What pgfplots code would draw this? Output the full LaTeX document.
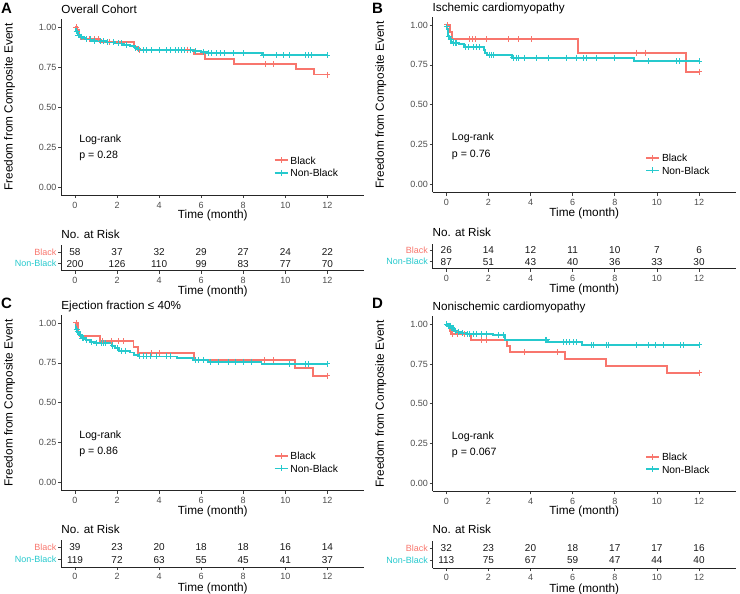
\documentclass[border=0pt]{standalone}
\usepackage{fontspec}
\setmainfont{Liberation Sans}
\usepackage{pgfplots}
\pgfplotsset{compat=1.18}
\definecolor{cred}{HTML}{F8766D}
\definecolor{cteal0}{HTML}{00BFC4}
\colorlet{cteal}{cteal0!85!white}
\definecolor{tickgray}{HTML}{4D4D4D}
\newcommand{\fs}[1]{\fontsize{#1}{#1}\selectfont}
\pgfplotsset{
  base/.style={scale only axis, xmin=-0.655, xmax=13.755,
    axis x line*=bottom, axis y line*=left,
    axis line style={line width=0.8pt, black!85},
    tick align=outside, major tick length=3pt,
    tick style={line width=0.7pt, black!75},
    xtick={0,2,4,6,8,10,12}, xticklabels={0,2,4,6,8,10,12},
    ticklabel style={font=\fs{9}, text=tickgray},
    xticklabel style={inner sep=0pt, anchor=north, yshift=-4pt},
    yticklabel style={inner sep=0pt, anchor=east, xshift=-1.5pt},
    xlabel={Time (month)},
    every axis x label/.style={at={(axis description cs:0.5,0)}, yshift=-20.5pt, anchor=center, inner sep=0pt, font=\fs{11.8}},
    every axis title/.style={at={(axis description cs:0,1)}, yshift=6pt, anchor=base west, inner sep=0pt, font=\fs{11.7}},
    clip=false,
  },
  km/.style={base, width=303.1pt, height=176pt, ymin=-0.05, ymax=1.05,
    ytick={0,0.25,0.5,0.75,1}, yticklabels={0.00,0.25,0.50,0.75,1.00},
    ylabel={Freedom from Composite Event},
    every axis y label/.style={at={(axis description cs:-0.1706,0.5)}, rotate=90, anchor=center, inner sep=0pt, font=\fs{11.8}},
    legend style={draw=none, fill=none, inner sep=0pt, font=\fs{10.3}, cells={anchor=west},
      at={(axis description cs:0.70,0.225)}, anchor=north west, row sep=3pt,
      nodes={inner ysep=1pt, inner xsep=2pt, text height=7.5pt, text depth=0pt}},
    legend image code/.code={\draw[mark repeat=2,mark phase=2,#1] plot coordinates {(0pt,0pt) (6.5pt,0pt) (13pt,0pt)};},
  },
  tbl/.style={base, width=303.1pt, ymin=0.4, ymax=2.6, ytick={1,2},
    yticklabels={\textcolor{cteal}{Non-Black},\textcolor{cred}{Black}},
    xticklabel style={yshift=0.5pt},
    every axis x label/.style={at={(axis description cs:0.5,0)}, yshift=-21pt, anchor=center, inner sep=0pt, font=\fs{11.8}},
    title={No. at Risk}, every axis title/.append style={yshift=1pt},
  },
  redmark/.style={only marks, mark=+, cred, mark size=3pt, mark options={line width=1pt}, forget plot},
  tealmark/.style={only marks, mark=+, cteal, mark size=3pt, mark options={line width=1pt}, forget plot},
  risk/.style={only marks, mark=none, nodes near coords, point meta=explicit symbolic,
    every node near coord/.append style={anchor=center, inner sep=0pt, font=\fs{10}, text=black!90}},
}
\tikzset{lred/.style={const plot, color=cred, line width=1.9pt}, lteal/.style={const plot, color=cteal, line width=1.9pt}}
\begin{document}
\begin{tikzpicture}
\path[use as bounding box] (0pt,0pt) rectangle (740pt,-594pt);
% ---------------- A ----------------
\node[anchor=base west, inner sep=0pt, font=\fs{15}\bfseries] at (1pt,-14pt) {A};
\begin{axis}[km, at={(61.2pt,-195pt)}, anchor=south west, title={Overall Cohort}]
\addplot[lred, forget plot] coordinates {(0,1.0) (0.1,0.983) (0.2,0.948) (0.3,0.925) (1.2,0.908) (2.8,0.873) (3.0,0.858) (5.65,0.829) (6.2,0.798) (7.55,0.767) (10.5,0.735) (11.35,0.703) (12,0.703)};
\addplot[redmark] coordinates {(0.05,1.0) (0.7,0.925) (0.95,0.925) (1.12,0.925) (1.66,0.908) (3.05,0.858) (5.36,0.858) (9.07,0.767) (9.43,0.767) (12,0.703)};
\addplot[lteal, forget plot] coordinates {(0,0.99) (0.05,0.975) (0.1,0.962) (0.15,0.95) (0.25,0.94) (0.35,0.93) (0.5,0.922) (0.8,0.915) (1.1,0.91) (1.5,0.904) (1.9,0.897) (2.3,0.89) (2.6,0.882) (2.85,0.87) (2.95,0.862) (3.1,0.855) (5.6,0.85) (6.0,0.842) (6.3,0.836) (8.9,0.825) (12,0.825)};
\addplot[tealmark] coordinates {(0.08,0.975) (0.16,0.95) (0.32,0.94) (0.56,0.922) (0.76,0.922) (0.95,0.915) (1.19,0.91) (1.35,0.91) (1.55,0.904) (1.82,0.904) (2.06,0.897) (2.22,0.897) (2.46,0.89) (2.9,0.87) (3.01,0.862) (3.25,0.855) (3.41,0.855) (3.65,0.855) (4.04,0.855) (4.36,0.855) (4.52,0.855) (4.76,0.855) (4.91,0.855) (5.07,0.855) (5.23,0.855) (5.47,0.855) (5.75,0.85) (6.1,0.842) (6.34,0.836) (6.5,0.836) (6.74,0.836) (6.9,0.836) (7.13,0.836) (7.53,0.836) (8.0,0.836) (8.96,0.825) (9.6,0.825) (9.9,0.825) (10.2,0.825) (10.94,0.825) (11.1,0.825) (11.25,0.825) (12,0.825)};
\addlegendimage{cred, line width=1.9pt, mark=+, mark size=3pt, mark options={line width=1pt}}
\addlegendentry{Black}
\addlegendimage{cteal, line width=1.9pt, mark=+, mark size=3pt, mark options={line width=1pt}}
\addlegendentry{Non-Black}
\node[anchor=west, inner sep=0pt, font=\fs{10.6}] at (axis cs:0.2,0.294) {Log-rank};
\node[anchor=west, inner sep=0pt, font=\fs{10.6}] at (axis cs:0.2,0.194) {p = 0.28};
\end{axis}
\begin{axis}[tbl, at={(61.2pt,-270.5pt)}, anchor=south west, height=25.1pt]
\addplot[risk] table[meta=n, row sep=\\] {x y n\\ 0 2 58\\ 2 2 37\\ 4 2 32\\ 6 2 29\\ 8 2 27\\ 10 2 24\\ 12 2 22\\ 0 1 200\\ 2 1 126\\ 4 1 110\\ 6 1 99\\ 8 1 83\\ 10 1 77\\ 12 1 70\\};
\end{axis}
% ---------------- B ----------------
\node[anchor=base west, inner sep=0pt, font=\fs{15}\bfseries] at (372pt,-14pt) {B};
\begin{axis}[km, at={(432.5pt,-192.5pt)}, anchor=south west, width=303.5pt, height=175.5pt, title={Ischemic cardiomyopathy}]
\addplot[lred, forget plot] coordinates {(0,1.0) (0.18,0.958) (0.26,0.91) (6.24,0.826) (11.38,0.707) (12,0.707)};
\addplot[redmark] coordinates {(0.05,1.0) (1.1,0.91) (1.25,0.91) (1.4,0.91) (1.9,0.91) (2.95,0.91) (3.45,0.91) (4.05,0.91) (9.04,0.826) (9.48,0.826) (12,0.707)};
\addplot[lteal, forget plot] coordinates {(0,0.99) (0.03,0.975) (0.06,0.955) (0.1,0.93) (0.15,0.91) (0.22,0.895) (0.3,0.885) (0.6,0.878) (0.85,0.86) (1.77,0.843) (1.85,0.826) (1.95,0.812) (3.12,0.795) (8.91,0.774) (12,0.774)};
\addplot[tealmark] coordinates {(0.02,0.99) (0.12,0.93) (0.2,0.91) (0.34,0.885) (0.42,0.885) (0.5,0.885) (0.92,0.86) (1.05,0.86) (1.29,0.86) (1.44,0.86) (1.6,0.86) (2.07,0.812) (2.15,0.812) (2.23,0.812) (3.18,0.795) (3.31,0.795) (3.42,0.795) (3.73,0.795) (4.29,0.795) (4.84,0.795) (5.71,0.795) (6.18,0.795) (6.5,0.795) (6.66,0.795) (7.13,0.795) (8.0,0.795) (9.58,0.774) (10.92,0.774) (11.05,0.774) (12,0.774)};
\addlegendimage{cred, line width=1.9pt, mark=+, mark size=3pt, mark options={line width=1pt}}
\addlegendentry{Black}
\addlegendimage{cteal, line width=1.9pt, mark=+, mark size=3pt, mark options={line width=1pt}}
\addlegendentry{Non-Black}
\node[anchor=west, inner sep=0pt, font=\fs{10.6}] at (axis cs:0.26,0.293) {Log-rank};
\node[anchor=west, inner sep=0pt, font=\fs{10.6}] at (axis cs:0.26,0.188) {p = 0.76};
\end{axis}
\begin{axis}[tbl, at={(432.5pt,-268.5pt)}, anchor=south west, width=303.5pt, height=25pt]
\addplot[risk] table[meta=n, row sep=\\] {x y n\\ 0 2 26\\ 2 2 14\\ 4 2 12\\ 6 2 11\\ 8 2 10\\ 10 2 7\\ 12 2 6\\ 0 1 87\\ 2 1 51\\ 4 1 43\\ 6 1 40\\ 8 1 36\\ 10 1 33\\ 12 1 30\\};
\end{axis}
% ---------------- C ----------------
\node[anchor=base west, inner sep=0pt, font=\fs{15}\bfseries] at (1pt,-308pt) {C};
\begin{axis}[km, at={(61.2pt,-490.5pt)}, anchor=south west, height=175.5pt, title={Ejection fraction ≤ 40\%}]
\addplot[lred, forget plot] coordinates {(0,1.0) (0.16,0.945) (0.25,0.92) (1.18,0.885) (2.78,0.85) (3.0,0.81) (5.65,0.768) (10.48,0.716) (11.33,0.668) (12,0.668)};
\addplot[redmark] coordinates {(0.05,1.0) (1.3,0.885) (1.74,0.885) (2.06,0.885) (2.3,0.885) (3.64,0.81) (4.0,0.81) (9.03,0.768) (9.43,0.768) (12,0.668)};
\addplot[lteal, forget plot] coordinates {(0,0.99) (0.04,0.96) (0.1,0.945) (0.17,0.925) (0.3,0.904) (0.5,0.894) (0.7,0.879) (0.95,0.873) (1.74,0.856) (1.9,0.842) (2.1,0.827) (2.6,0.815) (2.8,0.8) (3.0,0.79) (4.83,0.78) (5.63,0.768) (6.34,0.758) (8.87,0.744) (12,0.744)};
\addplot[tealmark] coordinates {(0.08,0.96) (0.14,0.945) (0.24,0.925) (0.34,0.904) (0.42,0.904) (0.56,0.894) (0.79,0.879) (1.0,0.873) (1.27,0.873) (1.35,0.873) (1.43,0.873) (1.8,0.856) (2.0,0.842) (2.22,0.827) (2.38,0.827) (3.09,0.79) (3.25,0.79) (3.41,0.79) (3.57,0.79) (3.88,0.79) (4.36,0.79) (4.52,0.79) (5.71,0.768) (5.86,0.768) (6.1,0.768) (6.42,0.758) (6.82,0.758) (7.29,0.758) (7.61,0.758) (8.0,0.758) (8.4,0.758) (10.2,0.744) (10.94,0.744) (11.1,0.744) (12,0.744)};
\addlegendimage{cred, line width=1.9pt, mark=+, mark size=3pt, mark options={line width=1pt}}
\addlegendentry{Black}
\addlegendimage{cteal, line width=1.9pt, mark=+, mark size=3pt, mark options={line width=1pt}}
\addlegendentry{Non-Black}
\node[anchor=west, inner sep=0pt, font=\fs{10.6}] at (axis cs:0.2,0.292) {Log-rank};
\node[anchor=west, inner sep=0pt, font=\fs{10.6}] at (axis cs:0.2,0.194) {p = 0.86};
\end{axis}
\begin{axis}[tbl, at={(61.2pt,-567pt)}, anchor=south west, height=27pt]
\addplot[risk] table[meta=n, row sep=\\] {x y n\\ 0 2 39\\ 2 2 23\\ 4 2 20\\ 6 2 18\\ 8 2 18\\ 10 2 16\\ 12 2 14\\ 0 1 119\\ 2 1 72\\ 4 1 63\\ 6 1 55\\ 8 1 45\\ 10 1 41\\ 12 1 37\\};
\end{axis}
% ---------------- D ----------------
\node[anchor=base west, inner sep=0pt, font=\fs{15}\bfseries] at (372pt,-308pt) {D};
\begin{axis}[km, at={(432.5pt,-491.3pt)}, anchor=south west, width=303.5pt, height=175pt, title={Nonischemic cardiomyopathy}]
\addplot[lred, forget plot] coordinates {(0,1.0) (0.18,0.96) (0.22,0.939) (1.16,0.902) (2.87,0.864) (3.03,0.824) (5.64,0.78) (7.58,0.738) (10.5,0.696) (12,0.696)};
\addplot[redmark] coordinates {(0.3,0.939) (0.55,0.939) (0.85,0.939) (1.67,0.902) (1.9,0.902) (3.7,0.824) (5.3,0.824) (12,0.696)};
\addplot[lteal, forget plot] coordinates {(0,1.0) (0.08,0.99) (0.2,0.975) (0.38,0.96) (0.48,0.95) (0.7,0.945) (0.95,0.939) (2.23,0.93) (2.79,0.902) (4.84,0.887) (6.43,0.87) (12,0.87)};
\addplot[tealmark] coordinates {(0.01,1.0) (0.1,0.99) (0.14,0.99) (0.18,0.99) (0.23,0.975) (0.28,0.975) (0.34,0.975) (0.42,0.96) (0.57,0.95) (0.75,0.945) (0.99,0.939) (1.09,0.939) (1.28,0.939) (1.44,0.939) (1.68,0.939) (1.92,0.939) (2.47,0.93) (2.71,0.93) (4.69,0.902) (4.77,0.902) (5.56,0.887) (5.71,0.887) (5.87,0.887) (6.03,0.887) (6.19,0.887) (6.9,0.87) (6.98,0.87) (7.61,0.87) (7.69,0.87) (9.04,0.87) (9.59,0.87) (9.91,0.87) (10.3,0.87) (11.1,0.87) (11.25,0.87) (12,0.87)};
\addlegendimage{cred, line width=1.9pt, mark=+, mark size=3pt, mark options={line width=1pt}}
\addlegendentry{Black}
\addlegendimage{cteal, line width=1.9pt, mark=+, mark size=3pt, mark options={line width=1pt}}
\addlegendentry{Non-Black}
\node[anchor=west, inner sep=0pt, font=\fs{10.6}] at (axis cs:0.26,0.295) {Log-rank};
\node[anchor=west, inner sep=0pt, font=\fs{10.6}] at (axis cs:0.26,0.19) {p = 0.067};
\end{axis}
\begin{axis}[tbl, at={(432.5pt,-568pt)}, anchor=south west, width=303.5pt, height=27.5pt]
\addplot[risk] table[meta=n, row sep=\\] {x y n\\ 0 2 32\\ 2 2 23\\ 4 2 20\\ 6 2 18\\ 8 2 17\\ 10 2 17\\ 12 2 16\\ 0 1 113\\ 2 1 75\\ 4 1 67\\ 6 1 59\\ 8 1 47\\ 10 1 44\\ 12 1 40\\};
\end{axis}
\end{tikzpicture}
\end{document}
